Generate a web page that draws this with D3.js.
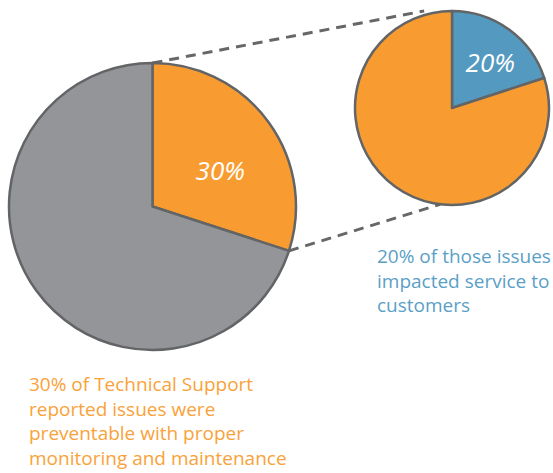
<!DOCTYPE html>
<html>
<head>
<meta charset="utf-8">
<script src="https://cdn.jsdelivr.net/npm/d3@7"></script>
<style>
  html, body { margin: 0; padding: 0; background: #fff; }
  svg { display: block; }
</style>
</head>
<body>
<div id="chart"></div>
<script>
(function(){
// --- data ---
const bigCategories = ["Preventable", "Not preventable"];
const bigValues = [30, 70];
const smallCategories = ["Impacted service", "Did not impact service"];
const smallValues = [20, 80];
const bigNote = ["30% of Technical Support", "reported issues were", "preventable with proper", "monitoring and maintenance"];
const smallNote = ["20% of those issues", "impacted service to", "customers"];

const W = 553, H = 473;
const orange = "#f89c31", grey = "#939598", blue = "#5499bf", edge = "#636466";

const svg = d3.select("#chart").append("svg")
    .attr("width", W)
    .attr("height", H);

// pie geometry
const big = { cx: 152.5, cy: 206.5, r: 143.5 };
const small = { cx: 452, cy: 108, r: 97 };

const pie = d3.pie().sort(null).value(d => d.value);
const bigData = pie(bigCategories.map((c, i) => ({ name: c, value: bigValues[i] })));
const smallData = pie(smallCategories.map((c, i) => ({ name: c, value: smallValues[i] })));

// --- dashed connectors (drawn first, under the pies) ---
const slice = bigData[0];
const p1 = d3.pointRadial(slice.startAngle, big.r);
const p2 = d3.pointRadial(slice.endAngle, big.r);
const q1 = d3.pointRadial(-16 * Math.PI / 180, small.r + 4);
const q2 = d3.pointRadial(187 * Math.PI / 180, small.r);

const links = [
    [[big.cx + p1[0], big.cy + p1[1]], [small.cx + q1[0], small.cy + q1[1]]],
    [[big.cx + p2[0], big.cy + p2[1]], [small.cx + q2[0], small.cy + q2[1]]]
];
svg.selectAll(".link")
    .data(links)
    .enter()
    .append("path")
    .attr("class", "link")
    .attr("d", d => d3.line()(d))
    .attr("stroke", "#666769")
    .attr("stroke-width", 3)
    .attr("stroke-dasharray", "10,7")
    .attr("fill", "none");

// --- pies ---
function drawPie(cfg, data, colors, labelR, shift, labelText) {
    const g = svg.append("g")
        .attr("transform", `translate(${cfg.cx},${cfg.cy})`);
    const arc = d3.arc().innerRadius(0).outerRadius(cfg.r);
    g.selectAll("path")
        .data(data)
        .enter()
        .append("path")
        .attr("d", arc)
        .attr("fill", (d, i) => colors[i])
        .attr("stroke", edge)
        .attr("stroke-width", 2.5)
        .attr("stroke-linejoin", "round");
    const labelArc = d3.arc().innerRadius(labelR).outerRadius(labelR);
    const c = labelArc.centroid(data[0]);
    g.append("text")
        .attr("x", c[0] + shift[0])
        .attr("y", c[1] + shift[1])
        .attr("dy", "0.35em")
        .attr("text-anchor", "middle")
        .style("font-family", "'Open Sans', sans-serif")
        .style("font-style", "italic")
        .style("font-size", "26px")
        .style("fill", "#fff")
        .text(labelText);
}

drawPie(big, bigData, [orange, grey], 80, [3, 11], bigValues[0] + "%");
drawPie(small, smallData, [blue, orange], 60, [3, 3], smallValues[0] + "%");

// --- notes ---
function note(lines, x, y, color) {
    const t = svg.append("text")
        .attr("x", x)
        .attr("y", y)
        .style("font-family", "'Open Sans', sans-serif")
        .style("font-size", "19px")
        .style("fill", color);
    t.selectAll("tspan")
        .data(lines)
        .enter()
        .append("tspan")
        .attr("x", x)
        .attr("dy", (d, i) => i === 0 ? 0 : 24.5)
        .text(d => d);
}

note(smallNote, 377, 263, "#5b9fc6");
note(bigNote, 29, 391, "#f9a23a");
})();
</script>
</body>
</html>
